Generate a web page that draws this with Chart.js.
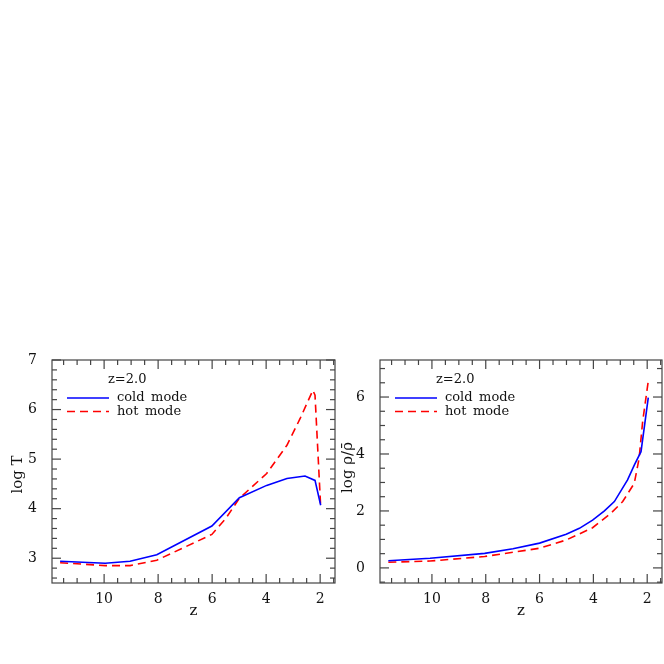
<!DOCTYPE html>
<html>
<head>
<meta charset="utf-8">
<script src="https://cdn.jsdelivr.net/npm/chart.js@4/dist/chart.umd.min.js"></script>
<style>
  html, body { margin: 0; padding: 0; background: #fff; }
  body { width: 664px; height: 664px; position: relative; overflow: hidden; }
  canvas { position: absolute; }
  #c1 { left: 0px; top: 340px; }
  #c2 { left: 340px; top: 340px; }
</style>
</head>
<body>
<canvas id="c1" width="340" height="280"></canvas>
<canvas id="c2" width="324" height="280"></canvas>
<script>
// ---- data ----
const seriesLabels = ["cold mode", "hot mode"];
const legendTitle = "z=2.0";

// left panel: log T vs z
const zT_cold   = [11.63, 9.96, 9.04, 8.05, 6.01, 4.99, 3.98, 3.23, 2.56, 2.19, 1.98];
const logT_cold = [2.94, 2.90, 2.94, 3.07, 3.65, 4.22, 4.47, 4.61, 4.66, 4.57, 4.07];
const zT_hot    = [11.63, 9.96, 9.04, 8.05, 6.01, 5.5, 4.99, 3.98, 3.23, 2.74, 2.27, 2.19, 1.98];
const logT_hot  = [2.91, 2.85, 2.85, 2.96, 3.48, 3.80, 4.21, 4.71, 5.28, 5.82, 6.39, 6.29, 4.03];

// right panel: log rho/rhobar vs z
const zR_cold      = [11.62, 10.07, 8.04, 6.99, 6.0, 5.01, 4.52, 4.03, 3.59, 3.22, 2.73, 2.48, 2.23, 1.96];
const logRho_cold  = [0.25, 0.34, 0.51, 0.67, 0.87, 1.18, 1.39, 1.68, 2.0, 2.33, 3.09, 3.61, 4.08, 5.98];
const zR_hot       = [11.62, 10.07, 8.04, 6.0, 5.01, 4.03, 3.35, 2.91, 2.48, 2.3, 2.17, 1.96];
const logRho_hot   = [0.2, 0.24, 0.4, 0.69, 0.98, 1.41, 1.92, 2.33, 2.97, 3.85, 5.13, 6.56];

// ticks
const xTickValues = [2, 4, 6, 8, 10];
const yTickValuesT = [3, 4, 5, 6, 7];
const yTickValuesRho = [0, 2, 4, 6];

const FONT = "'DejaVu Serif', 'Liberation Serif', serif";

function pts(xs, ys) { return xs.map((v, i) => ({ x: v, y: ys[i] })); }

const framePlugin = {
  id: 'frame',
  afterDraw(chart, args, o) {
    const { ctx, chartArea: a, scales: { x, y } } = chart;
    ctx.save();
    ctx.strokeStyle = '#444';
    ctx.lineWidth = 1.2;
    ctx.strokeRect(a.left, a.top, a.right - a.left, a.bottom - a.top);
    const line = (x1, y1, x2, y2) => { ctx.beginPath(); ctx.moveTo(x1, y1); ctx.lineTo(x2, y2); ctx.stroke(); };
    // x ticks (inward, top and bottom)
    for (let v = Math.ceil(x.min / o.xMinor) * o.xMinor; v <= x.max + 1e-9; v += o.xMinor) {
      const px = x.getPixelForValue(v);
      const major = Math.abs(v / o.xMajor - Math.round(v / o.xMajor)) < 1e-6;
      const L = major ? 9 : 5;
      line(px, a.bottom, px, a.bottom - L);
      line(px, a.top, px, a.top + L);
    }
    // y ticks
    for (let v = Math.ceil(y.min / o.yMinor) * o.yMinor; v <= y.max + 1e-9; v += o.yMinor) {
      const py = y.getPixelForValue(v);
      const major = Math.abs(v / o.yMajor - Math.round(v / o.yMajor)) < 1e-6;
      const L = major ? 9 : 5;
      line(a.left, py, a.left + L, py);
      line(a.right, py, a.right - L, py);
    }
    // axis titles
    ctx.fillStyle = '#111';
    ctx.font = "15px " + FONT;
    ctx.textAlign = 'center';
    ctx.textBaseline = 'middle';
    ctx.fillText(o.xTitle, (a.left + a.right) / 2 + o.xTitleDx, a.bottom + 28);
    ctx.save();
    ctx.translate(o.yTitleX, (a.top + a.bottom) / 2 + o.yTitleDy);
    ctx.rotate(-Math.PI / 2);
    ctx.fillText(o.yTitle, 0, 0);
    ctx.restore();
    // legend
    ctx.font = "13px " + FONT;
    ctx.textAlign = 'left';
    ctx.fillText(legendTitle, a.left + 56, a.top + 20);
    chart.data.datasets.forEach((ds, i) => {
      const ly = a.top + 38 + i * 13.5;
      ctx.save();
      ctx.strokeStyle = ds.borderColor;
      ctx.lineWidth = ds.borderWidth;
      ctx.setLineDash(ds.borderDash || []);
      line(a.left + 15, ly, a.left + 57, ly);
      ctx.restore();
      ctx.fillStyle = '#111';
      ctx.fillText(ds.label.replace(' ', '\u2002'), a.left + 65, ly);
    });
    ctx.restore();
  }
};

function makeChart(id, dsCold, dsHot, yMin, yMax, yTicks, yAxisW, padRight, opts) {
  return new Chart(document.getElementById(id), {
    type: 'scatter',
    data: {
      datasets: [
        { label: seriesLabels[0], data: dsCold, showLine: true, borderColor: '#0000ff', borderWidth: 1.6,
          pointRadius: 0, fill: false, tension: 0 },
        { label: seriesLabels[1], data: dsHot, showLine: true, borderColor: '#ff0000', borderWidth: 1.6,
          borderDash: [8, 5], pointRadius: 0, fill: false, tension: 0 }
      ]
    },
    options: {
      responsive: false,
      devicePixelRatio: 1,
      animation: false,
      layout: { padding: { top: 20, right: padRight, left: 0, bottom: 0 } },
      plugins: { legend: { display: false }, tooltip: { enabled: false }, frame: opts },
      scales: {
        x: {
          type: 'linear', reverse: true, min: 1.45, max: 11.93,
          grid: { display: false }, border: { display: false },
          afterBuildTicks: s => { s.ticks = xTickValues.map(v => ({ value: v })); },
          afterFit: s => { s.height = 37; },
          ticks: { font: { family: FONT, size: 14 }, color: '#111', padding: 0, maxRotation: 0 }
        },
        y: {
          type: 'linear', min: yMin, max: yMax,
          grid: { display: false }, border: { display: false },
          afterBuildTicks: s => { s.ticks = yTicks.map(v => ({ value: v })); },
          afterFit: s => { s.width = yAxisW; },
          ticks: { font: { family: FONT, size: 14 }, color: '#111', padding: 7 }
        }
      }
    },
    plugins: [framePlugin]
  });
}

makeChart('c1', pts(zT_cold, logT_cold), pts(zT_hot, logT_hot), 2.5, 7, yTickValuesT, 52, 5,
  { xMinor: 0.5, xMajor: 2, yMinor: 0.2, yMajor: 1, xTitle: 'z', xTitleDx: 0, yTitle: 'log T', yTitleX: 18, yTitleDy: 3 });
makeChart('c2', pts(zR_cold, logRho_cold), pts(zR_hot, logRho_hot), -0.53, 7.3, yTickValuesRho, 40, 2,
  { xMinor: 0.5, xMajor: 2, yMinor: 0.5, yMajor: 2, xTitle: 'z', xTitleDx: 0, yTitle: 'log \u03C1/\u03C1\u0304', yTitleX: 8, yTitleDy: -4 });
</script>
</body>
</html>
